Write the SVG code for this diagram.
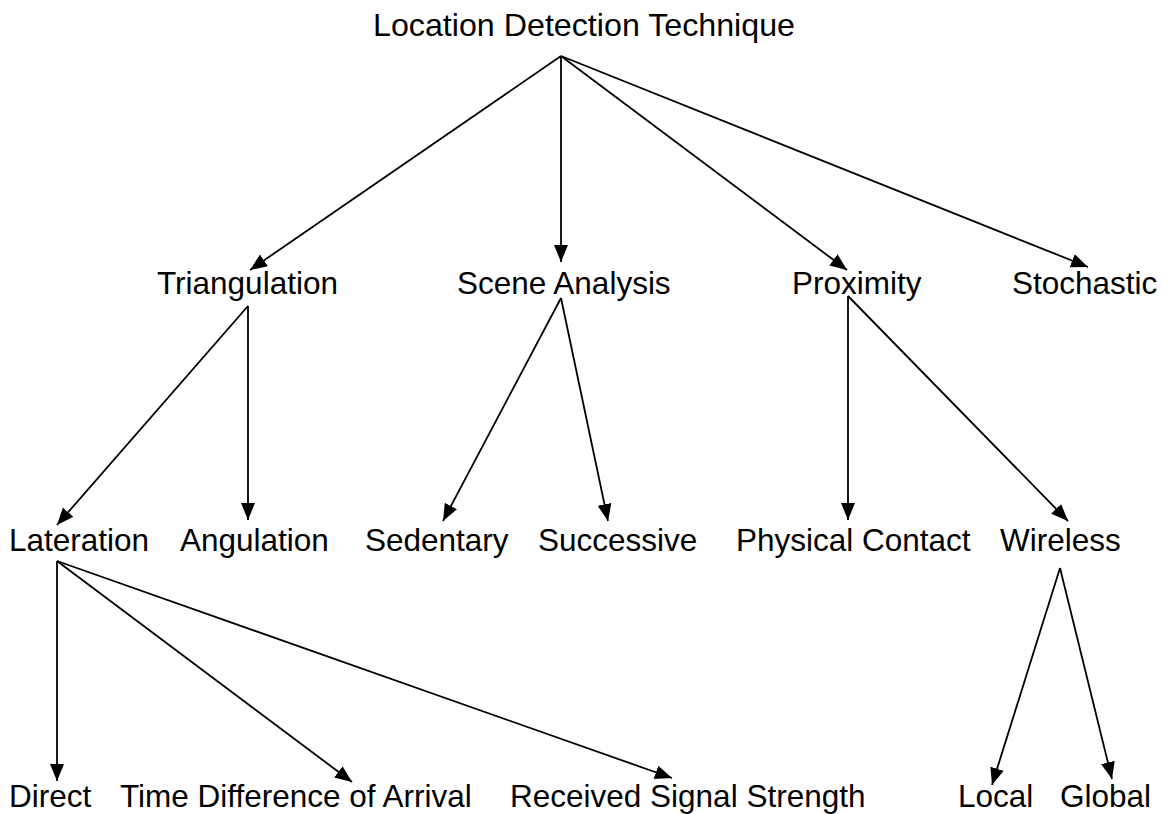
<svg xmlns="http://www.w3.org/2000/svg" width="1167" height="814" viewBox="0 0 1167 814">
<style>
text{font-family:"Liberation Sans",Arial,sans-serif;font-size:31.5px;fill:#000}
.c line{stroke:#000;stroke-width:1.8;marker-end:url(#ah)}
</style>
<defs>
<marker id="ah" markerUnits="userSpaceOnUse" markerWidth="20" markerHeight="16" refX="17" refY="7" orient="auto">
<path d="M0,0 L17,7 L0,14 Z" fill="#000"/>
</marker>
</defs>
<rect width="1167" height="814" fill="#fff"/>
<g class="c" id="connectors">
<line x1="561" y1="56" x2="250" y2="270"/>
<line x1="561" y1="56" x2="561" y2="262"/>
<line x1="561" y1="56" x2="847" y2="270"/>
<line x1="561" y1="56" x2="1088" y2="267"/>
<line x1="248" y1="306" x2="57" y2="525"/>
<line x1="248" y1="306" x2="248" y2="520"/>
<line x1="561" y1="298" x2="443" y2="521"/>
<line x1="561" y1="298" x2="608" y2="521"/>
<line x1="848" y1="296" x2="848" y2="520"/>
<line x1="848" y1="296" x2="1068" y2="521"/>
<line x1="57" y1="561" x2="57" y2="781"/>
<line x1="57" y1="561" x2="352" y2="782"/>
<line x1="57" y1="561" x2="672" y2="778"/>
<line x1="1060" y1="568" x2="992" y2="785"/>
<line x1="1060" y1="568" x2="1112" y2="779"/>
</g>
<g id="n-root"><text x="373" y="36" textLength="422" lengthAdjust="spacingAndGlyphs">Location Detection Technique</text></g>
<g id="n-triangulation"><text x="157" y="294">Triangulation</text></g>
<g id="n-scene"><text x="457" y="294">Scene Analysis</text></g>
<g id="n-proximity"><text x="792" y="294">Proximity</text></g>
<g id="n-stochastic"><text x="1012" y="294">Stochastic</text></g>
<g id="n-lateration"><text x="9" y="551">Lateration</text></g>
<g id="n-angulation"><text x="180" y="551">Angulation</text></g>
<g id="n-sedentary"><text x="365" y="551">Sedentary</text></g>
<g id="n-successive"><text x="538" y="551">Successive</text></g>
<g id="n-physical"><text x="736" y="551">Physical Contact</text></g>
<g id="n-wireless"><text x="1000" y="551">Wireless</text></g>
<g id="n-direct"><text x="9" y="807">Direct</text></g>
<g id="n-tdoa"><text x="120" y="807">Time Difference of Arrival</text></g>
<g id="n-rss"><text x="510" y="807">Received Signal Strength</text></g>
<g id="n-local"><text x="958" y="807">Local</text></g>
<g id="n-global"><text x="1060" y="807">Global</text></g>
</svg>
